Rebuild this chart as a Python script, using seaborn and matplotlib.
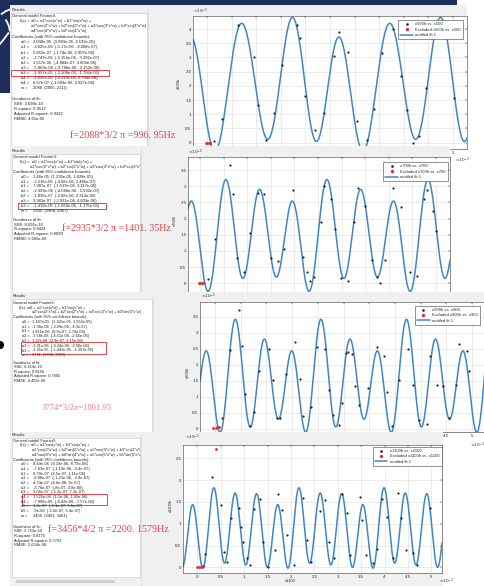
import numpy as np
import matplotlib
matplotlib.use("Agg")
import matplotlib.pyplot as plt
from matplotlib.patches import Rectangle, Ellipse
from matplotlib.ticker import MultipleLocator, FormatStrFormatter
import seaborn as sns

sns.set_style("white")
plt.rcParams["font.family"] = ["Liberation Sans", "DejaVu Sans"]
plt.rcParams["mathtext.fontset"] = "dejavusans"

W, H = 485, 586

# ---------------- fitted Fourier models (a0, a1, b1, ..., w) ----------------
fit_x500 = [2.038e-05, -3.025e-06, 5.852e-07, -2.747e-06, 1.657e-06, -5.969e-06, -1.957e-05, -2.035e-06, 6.67e-07, 2088]
fit_x500_lo = [1.883e-05, -5.17e-06, -1.74e-06, -5.154e-06, -4.884e-07, -9.786e-06, -2.208e-05, -4.119e-06, -1.693e-06, 2065]
fit_x500_hi = [2.193e-05, -9.008e-07, 2.907e-06, -3.392e-07, 3.803e-06, -2.152e-06, -1.706e-05, 6.744e-08, 3.027e-06, 2111]
gof_x500 = ["SSE: 3.698e-10", "R-square: 0.9512", "Adjusted R-square: 0.9322", "RMSE: 4.01e-06"]

fit_x700 = [1.46e-05, -2.216e-06, 7.987e-07, -2.399e-06, -1.835e-07, 9.363e-07, -1.419e-05, 2935]
fit_x700_lo = [1.293e-05, -4.68e-06, -1.519e-06, -4.646e-06, -2.68e-06, -2.931e-06, -1.663e-05, 2904]
fit_x700_hi = [1.628e-05, 2.485e-07, 3.117e-06, -1.532e-07, 2.313e-06, 4.803e-06, -1.175e-05, 2967]
gof_x700 = ["SSE: 8.691e-10", "R-square: 0.8424", "Adjusted R-square: 0.8099", "RMSE: 5.056e-06"]

fit_x900 = [1.487e-05, -1.36e-06, 1.815e-06, -3.58e-06, 1.22e-06, -3.31e-06, -1.35e-05, 3774]
fit_x900_lo = [1.421e-05, -2.29e-06, 8.9e-07, -4.51e-06, 2.9e-07, -4.24e-06, -1.443e-05, 3768]
fit_x900_hi = [1.553e-05, -4.3e-07, 2.74e-06, -2.65e-06, 2.15e-06, -2.38e-06, -1.257e-05, 3780]
gof_x900 = ["SSE: 6.254e-10", "R-square: 0.8156", "Adjusted R-square: 0.7865", "RMSE: 4.403e-06"]

fit_x1100 = [8.49e-06, -7.63e-07, 6.79e-07, -8.08e-07, 4.74e-07, -3.76e-07, 3.04e-07, 1.525e-06, -7.996e-06, 1.2e-07, -9.0e-08, 3456]
fit_x1100_lo = [8.19e-06, -1.19e-06, 2.5e-07, -1.23e-06, 4.6e-08, -8.0e-07, -1.2e-07, 1.1e-06, -8.42e-06, -3.1e-07, -5.2e-07, 3451]
fit_x1100_hi = [8.79e-06, -3.4e-07, 1.11e-06, -3.9e-07, 9.0e-07, 4.8e-08, 7.3e-07, 1.95e-06, -7.57e-06, 5.5e-07, 3.4e-07, 3461]
gof_x1100 = ["SSE: 2.753e-10", "R-square: 0.8175", "Adjusted R-square: 0.7752", "RMSE: 2.624e-06"]

# ---------------- measured samples: time (x1e-3 s), amplitude (x1e-5) ----------------
x500_t = [0.15, 0.31, 0.64, 0.955, 1.037, 1.20, 1.36, 1.52, 1.835, 1.89, 2.00, 2.20, 2.385, 2.575,
          2.68, 2.86, 3.05, 3.245, 3.39, 3.55, 3.79, 3.94, 4.06, 4.18, 4.31, 4.45, 5.02]
x500_h = [0.06, 0.82, 4.14, 3.03, 1.31, 0.08, 1.03, 2.72, 4.14, 3.70, 1.65, 0.45, 1.03, 3.06,
          3.88, 3.18, 0.75, 0.08, 1.19, 3.16, 3.99, 2.35, 1.14, 0.00, 0.25, 1.91, 1.56]
x500_ex_t = [-0.02, 0.01, 0.04, 0.07]
x500_ex_h = [0.0, 0.0, 0.0, 0.0]

x700_t = [0.16, 0.32, 0.64, 0.71, 0.78, 0.93, 1.07, 1.22, 1.36, 1.50, 1.65, 1.77, 1.98, 2.19, 2.26,
          2.34, 2.42, 2.56, 2.63, 2.78, 2.85, 2.99, 3.13, 3.27, 3.35, 3.50, 3.64, 3.74, 3.81, 3.92,
          4.08, 4.26, 4.44, 4.59, 4.75, 4.82, 4.94, 5.01]
x700_h = [0.13, 1.36, 3.66, 2.75, 0.77, 0.36, 1.55, 2.78, 2.75, 0.79, 0.69, 1.05, 2.89, 0.82, 0.36,
          0.08, 0.18, 1.91, 3.01, 2.61, 1.67, 0.15, 0.08, 1.91, 2.94, 2.40, 0.72, 0.21, 0.00, 0.72,
          2.96, 2.35, 0.34, 0.23, 2.60, 2.89, 2.24, 1.63]
x700_ex_t = [-0.02, 0.01, 0.04, 0.07]
x700_ex_h = [0.0, 0.0, 0.0, 0.0]

x900_t = [0.13, 0.29, 0.47, 0.52, 0.58, 0.68, 0.76, 0.86, 1.06, 1.12, 1.20, 1.26, 1.39, 1.56, 1.65,
          1.71, 1.86, 1.99, 2.14, 2.21, 2.29, 2.41, 2.48, 2.55, 2.59, 2.66, 2.72, 2.81, 2.98, 3.15,
          3.29, 3.35, 3.44, 3.57, 3.76, 3.86, 3.97, 4.13, 4.18, 4.31, 4.44, 4.56, 4.69, 4.75, 4.90, 4.95]
x900_h = [0.34, 2.45, 3.72, 2.58, 1.08, 0.07, 0.51, 1.79, 2.49, 1.53, 0.32, 0.32, 1.71, 2.71, 1.55,
          0.39, 0.68, 2.55, 2.49, 1.21, 0.42, 0.13, 0.79, 2.37, 2.39, 2.32, 1.32, 0.74, 1.26, 2.56,
          2.26, 1.16, 0.07, 1.53, 2.49, 1.37, 0.28, 0.16, 2.28, 1.35, 1.32, 0.34, 1.37, 2.66, 2.42, 1.79]
x900_ex_t = [-0.03, 0.01, 0.045, 0.08]
x900_ex_h = [0.02, 0.03, 0.04, 0.05]

x1100_t = [0.115, 0.165, 0.31, 0.50, 0.56, 0.63, 0.72, 0.90, 0.93, 0.97, 1.055, 1.125, 1.21, 1.34,
           1.40, 1.50, 1.65, 1.73, 1.82, 1.92, 2.07, 2.265, 2.34, 2.44, 2.62, 2.73, 2.82, 2.93,
           3.085, 3.19, 3.26, 3.48, 3.51, 3.60, 3.75, 3.83, 3.94, 4.05, 4.19, 4.295, 4.35, 4.47,
           4.615, 4.69, 4.97]
x1100_h = [0.02, 0.30, 2.06, 1.42, 0.34, 0.13, 1.12, 1.35, 0.92, 0.57, 0.21, 0.05, 1.34, 1.56,
           0.59, 0.00, 0.40, 1.67, 1.31, 0.74, 0.05, 1.58, 0.63, 0.13, 1.28, 1.54, 0.59, 0.21,
           1.68, 1.25, 0.28, 1.62, 1.09, 0.28, 0.09, 0.41, 1.56, 1.15, 0.21, 1.71, 1.12, 0.40,
           0.32, 0.05, 1.35]
x1100_ex_t = [-0.01, 0.03, 0.07, 0.12, 0.40]
x1100_ex_h = [0.0, 0.0, 0.01, 0.02, 2.71]

# frequency notes written next to each result
note_x500 = "f=2088*3/2 \u03c0 =996. 95Hz"
note_x700 = "f=2935*3/2 \u03c0 =1401. 35Hz"
note_x900 = "3774*3/2\u03c0=1801.95"
note_x1100 = "f=3456*4/2 \u03c0 =2200. 1579Hz"

# ---------------- styling ----------------
NAVY = "#1d2e5c"
PANEL_GRAY = "#f0f0f0"
INK = "#1f1f1f"
FIT_BLUE = "#3f86c6"
EXCL_RED = "#e8262b"
NOTE_RED = "#e2404c"


def fmt(v):
    return f"{v:.0f}" if abs(v) >= 1 else f"{v:.4g}"


def fourier_curve(vals, t_ms):
    t = np.asarray(t_ms) * 1e-3
    w = vals[-1]
    y = np.full_like(t, vals[0], dtype=float)
    nh = (len(vals) - 2) // 2
    for k in range(1, nh + 1):
        y = y + vals[2 * k - 1] * np.cos(k * w * t) + vals[2 * k] * np.sin(k * w * t)
    return y / 1e-5


def coef_names(nh):
    names = ["a0"]
    for k in range(1, nh + 1):
        names += [f"a{k}", f"b{k}"]
    return names + ["w"]


def formula_lines(nh):
    def term(k):
        arg = "x*w" if k == 1 else f"{k}*x*w"
        return f"a{k}*cos({arg}) + b{k}*sin({arg})"
    lines = ["a0 + " + term(1)]
    rest = [term(k) for k in range(2, nh + 1)]
    for i in range(0, len(rest), 2):
        lines.append(" + ".join(rest[i:i + 2]))
    return [ln + (" +" if i < len(lines) - 1 else "") for i, ln in enumerate(lines)]


def px_rect(r):
    x0, y0, x1, y1 = r
    return [x0 / W, 1 - y1 / H, (x1 - x0) / W, (y1 - y0) / H]


def put(cv, x, y, s, fs, clip=None, **kw):
    kw.setdefault("color", INK)
    t = cv.text(x, y, s, fontsize=fs, va="center", ha="left", **kw)
    if clip is not None:
        t.set_clip_on(True)
        t.set_clip_path(clip)
    return t


def ax_frac(A, px, py):
    return ((px - A[0]) / (A[2] - A[0]), 1 - (py - A[1]) / (A[3] - A[1]))


screens = [
    dict(name="x500", fit=fit_x500, lo=fit_x500_lo, hi=fit_x500_hi, gof=gof_x500,
         t=x500_t, h=x500_h, et=x500_ex_t, eh=x500_ex_h, note=note_x500,
         S=(10, 5, 467, 149), T=(11, 13, 147, 152), A=(193, 16, 467, 149),
         xlim=(-0.2846, 5.2846), ylim=(-0.2217, 4.458),
         L=dict(fs=3.0, hdr=(12, 9.6), gen=(12.5, 16.0), fx=20.0, expr_x=31.5, cont_x=31.0,
                f_y0=21.0, f_dy=5.15, coef_hdr_y=36.7, row_y0=42.3, row_dy=5.12,
                name_x=21.0, val_x=33.0, gof_y0=99.0, gof_dy=5.1, gof_x=14.0),
         hl=[6], box_x=(10.7, 109.3), note_xy=(70, 136), note_fs=7.3, note_color=NOTE_RED,
         leg=(463, 20), ylab=(179, 83), yexp=(193, 15.5), xexp=(462, 160), xlab=None),
    dict(name="x700", fit=fit_x700, lo=fit_x700_lo, hi=fit_x700_hi, gof=gof_x700,
         t=x700_t, h=x700_h, et=x700_ex_t, eh=x700_ex_h, note=note_x700,
         S=(10, 146, 450, 292), T=(12, 154, 140, 292), A=(188, 157, 450, 292),
         xlim=(-0.254, 5.297), ylim=(-0.269, 3.907),
         L=dict(fs=3.0, hdr=(12, 151.0), gen=(13.3, 157.3), fx=20.0, expr_x=31.7, cont_x=30.0,
                f_y0=162.0, f_dy=5.0, coef_hdr_y=172.0, row_y0=176.7, row_dy=4.86,
                name_x=21.0, val_x=33.3, gof_y0=220.0, gof_dy=4.65, gof_x=14.0),
         hl=[6], box_x=(18, 106), note_xy=(61.7, 228.3), note_fs=7.2, note_color=NOTE_RED,
         leg=(448, 162), ylab=(175, 220), yexp=(188, 156.5), xexp=None, xlab=None),
    dict(name="x900", fit=fit_x900, lo=fit_x900_lo, hi=fit_x900_hi, gof=gof_x900,
         t=x900_t, h=x900_h, et=x900_ex_t, eh=x900_ex_h, note=note_x900,
         S=(10, 292, 485, 433), T=(12, 299, 152, 432), A=(200, 302, 490, 432),
         xlim=(-0.292, 5.350), ylim=(-0.103, 3.959),
         L=dict(fs=2.8, hdr=(13, 295.7), gen=(13.3, 303.0), fx=19.3, expr_x=28.3, cont_x=31.7,
                f_y0=307.75, f_dy=4.75, coef_hdr_y=317.25, row_y0=322.0, row_dy=4.75,
                name_x=22.0, val_x=32.0, gof_y0=363.0, gof_dy=4.5, gof_x=14.0),
         hl=[5, 6], box_x=(20.7, 106), note_xy=(41.7, 408.3), note_fs=6.2, note_color="#f07a84",
         leg=(480, 305.7), ylab=(188, 372), yexp=(201, 301), xexp=(477, 445), xlab=None),
    dict(name="x1100", fit=fit_x1100, lo=fit_x1100_lo, hi=fit_x1100_hi, gof=gof_x1100,
         t=x1100_t, h=x1100_h, et=x1100_ex_t, eh=x1100_ex_h, note=note_x1100,
         S=(10, 432, 443, 586), T=(12, 438, 140, 577), A=(183, 445, 442, 573),
         xlim=(-0.3056, 5.2286), ylim=(-0.1307, 2.805),
         L=dict(fs=2.9, hdr=(12, 435.0), gen=(13.3, 440.7), fx=20.0, expr_x=31.0, cont_x=31.7,
                f_y0=445.3, f_dy=4.85, coef_hdr_y=459.7, row_y0=464.3, row_dy=4.67,
                name_x=21.0, val_x=32.7, gof_y0=526.7, gof_dy=4.65, gof_x=14.0),
         hl=[7, 8], box_x=(21.7, 106.7), note_xy=(47.7, 529.3), note_fs=7.3, note_color=NOTE_RED,
         leg=(441.5, 446.7), ylab=(171, 505), yexp=(185, 441.5), xexp=(446, 581.3), xlab=(290, 581.3)),
]

fig = plt.figure(figsize=(W / 100, H / 100), dpi=100)
fig.patch.set_facecolor("white")

# slide decoration behind the screenshots
base = fig.add_axes([0, 0, 1, 1], zorder=0)
base.set_xlim(0, W)
base.set_ylim(H, 0)
base.axis("off")
base.add_patch(Rectangle((0, 0), 457, 5, facecolor=NAVY, edgecolor="none"))
base.add_patch(Rectangle((0, 0), 11, 93, facecolor=NAVY, edgecolor="none"))
base.plot([1.5, 6, 10], [14, 11, 9.5], color="white", lw=1.3, solid_capstyle="round")
base.plot([6, 8.5, 10], [20, 25, 31], color="white", lw=1.3, solid_capstyle="round")
base.plot([0, 4, 8.5], [44, 39, 33], color="white", lw=1.3, solid_capstyle="round")
base.add_patch(Ellipse((0.5, 345), 7, 8, facecolor="black", edgecolor="none"))

for i, sc in enumerate(screens):
    z = 2 * i + 1
    cv = fig.add_axes([0, 0, 1, 1], zorder=z)
    cv.set_xlim(0, W)
    cv.set_ylim(H, 0)
    cv.axis("off")

    S, T, L = sc["S"], sc["T"], sc["L"]
    cv.add_patch(Rectangle((S[0], S[1]), S[2] - S[0], S[3] - S[1], facecolor=PANEL_GRAY, edgecolor="none"))
    panel = Rectangle((T[0], T[1]), T[2] - T[0], T[3] - T[1], facecolor="white",
                      edgecolor="#c6c6c6", lw=0.4)
    cv.add_patch(panel)
    cv.plot([T[2] + 1.2, T[2] + 1.2], [S[1] + 2, S[3]], color="#d8d8d8", lw=0.5)

    fs = L["fs"]
    nh = (len(sc["fit"]) - 2) // 2
    put(cv, L["hdr"][0], L["hdr"][1], "Results", fs)
    put(cv, L["gen"][0], L["gen"][1], f"General model Fourier{nh}:", fs, panel)
    put(cv, L["fx"], L["f_y0"], "f(x) =", fs, panel)
    for j, line in enumerate(formula_lines(nh)):
        put(cv, L["expr_x"] if j == 0 else L["cont_x"], L["f_y0"] + j * L["f_dy"], line, fs, panel)
    put(cv, L["gen"][0], L["coef_hdr_y"], "Coefficients (with 95% confidence bounds):", fs, panel)
    for j, (nm, v, lo, hi) in enumerate(zip(coef_names(nh), sc["fit"], sc["lo"], sc["hi"])):
        y = L["row_y0"] + j * L["row_dy"]
        put(cv, L["name_x"], y, f"{nm} =", fs, panel)
        put(cv, L["val_x"], y, f"{fmt(v)}  ({fmt(lo)}, {fmt(hi)})", fs, panel)
    put(cv, L["gen"][0], L["gof_y0"], "Goodness of fit:", fs, panel)
    for j, s in enumerate(sc["gof"]):
        put(cv, L["gof_x"], L["gof_y0"] + (j + 1) * L["gof_dy"], s, fs, panel)

    y_top = L["row_y0"] + sc["hl"][0] * L["row_dy"] - 0.5 * L["row_dy"] - 0.9
    y_bot = L["row_y0"] + sc["hl"][-1] * L["row_dy"] + 0.5 * L["row_dy"] + 0.9
    cv.add_patch(Rectangle((sc["box_x"][0], y_top), sc["box_x"][1] - sc["box_x"][0], y_bot - y_top,
                           fill=False, edgecolor="#e0242c", lw=0.6))
    put(cv, sc["note_xy"][0], sc["note_xy"][1], sc["note"], sc["note_fs"],
        color=sc["note_color"], family=["Liberation Serif", "DejaVu Serif"])

    if i == 3:
        cv.add_patch(Rectangle((16, 579.5), 99, 3, facecolor="#cfcfcf", edgecolor="none"))

    # the fit plot
    A = sc["A"]
    ax = fig.add_axes(px_rect(A), zorder=z + 0.5)
    ax.set_facecolor("white")
    tt = np.linspace(sc["xlim"][0], sc["xlim"][1], 1600)
    sns.lineplot(x=tt, y=fourier_curve(sc["fit"], tt), ax=ax, color=FIT_BLUE, linewidth=1.1,
                 label="untitled fit 1", errorbar=None, zorder=2)
    sns.scatterplot(x=sc["t"], y=sc["h"], ax=ax, color=INK, s=2.5, linewidth=0, marker="o",
                    label=f"{sc['name']}h vs. {sc['name']}", zorder=3)
    sns.scatterplot(x=sc["et"], y=sc["eh"], ax=ax, color=EXCL_RED, s=4, linewidth=0, marker="o",
                    label=f"Excluded {sc['name']}h vs. {sc['name']}", zorder=3)
    ax.set_xlim(*sc["xlim"])
    ax.set_ylim(*sc["ylim"])
    ax.set_xlabel("")
    ax.set_ylabel("")
    ax.xaxis.set_major_locator(MultipleLocator(0.5))
    ax.yaxis.set_major_locator(MultipleLocator(0.5))
    ax.xaxis.set_major_formatter(FormatStrFormatter("%g"))
    ax.yaxis.set_major_formatter(FormatStrFormatter("%g"))
    ax.tick_params(direction="in", length=1.6, width=0.35, labelsize=3.2, pad=1.2,
                   top=True, right=True, colors="#262626")
    ax.grid(True, color="#e2e2e2", lw=0.45)
    ax.set_axisbelow(True)
    for sp in ax.spines.values():
        sp.set_linewidth(0.4)
        sp.set_color("#3a3a3a")

    handles, labels = ax.get_legend_handles_labels()
    order = [labels.index(f"{sc['name']}h vs. {sc['name']}"),
             labels.index(f"Excluded {sc['name']}h vs. {sc['name']}"),
             labels.index("untitled fit 1")]
    lx, ly = ax_frac(A, *sc["leg"])
    leg = ax.legend([handles[k] for k in order], [labels[k] for k in order], loc="upper right",
                    bbox_to_anchor=(lx, ly), fontsize=3, frameon=True, fancybox=False,
                    edgecolor="#404040", framealpha=1, borderpad=0.5, labelspacing=0.35,
                    handlelength=3.0, handletextpad=0.6, borderaxespad=0, markerscale=1.2)
    leg.get_frame().set_linewidth(0.4)

    fx, fy = ax_frac(A, *sc["ylab"])
    ax.text(fx, fy, f"{sc['name']}h", transform=ax.transAxes, rotation=90, fontsize=3,
            ha="center", va="center", color="#262626")
    fx, fy = ax_frac(A, *sc["yexp"])
    ax.text(fx, fy, r"$\times10^{-5}$", transform=ax.transAxes, fontsize=3, ha="left",
            va="bottom", color="#262626", clip_on=False)
    if sc["xexp"] is not None:
        fx, fy = ax_frac(A, *sc["xexp"])
        ax.text(fx, fy, r"$\times10^{-3}$", transform=ax.transAxes, fontsize=3, ha="center",
                va="center", color="#262626", clip_on=False)
    if sc["xlab"] is not None:
        fx, fy = ax_frac(A, *sc["xlab"])
        ax.text(fx, fy, sc["name"], transform=ax.transAxes, fontsize=3, ha="center",
                va="center", color="#262626", clip_on=False)

fig.savefig("out.png", dpi=100, facecolor="white")
